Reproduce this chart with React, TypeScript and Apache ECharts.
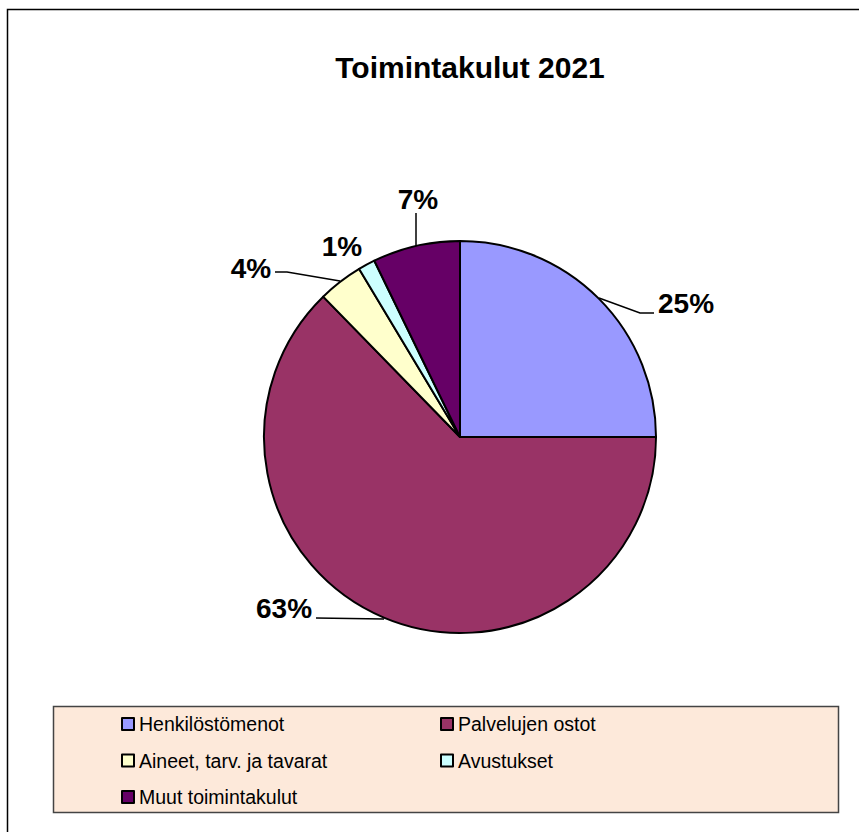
import React, { useEffect, useRef } from "react";
import * as echarts from "echarts";

const TITLE = "Toimintakulut 2021";
const categories = [
  "Henkilöstömenot",
  "Palvelujen ostot",
  "Aineet, tarv. ja tavarat",
  "Avustukset",
  "Muut toimintakulut",
];
const values = [25.0, 62.7, 3.7, 1.4, 7.2];
const colors = ["#9999FF", "#993366", "#FFFFCC", "#CCFFFF", "#660066"];
const leftLegend = ["Henkilöstömenot", "Aineet, tarv. ja tavarat", "Muut toimintakulut"];
const rightLegend = ["Palvelujen ostot", "Avustukset"];

const FONT = "'Liberation Sans', Arial, sans-serif";

// label placement (layout only): text center and leader line points
const labelPos = [
  { x: 686, y: 303, line: [[599, 298], [640, 313], [654, 313]] },
  { x: 284, y: 608, line: [[384, 619], [316, 618]] },
  { x: 251, y: 268, line: [[340, 281], [287, 272], [275, 272]] },
  { x: 342, y: 246, line: null },
  { x: 418, y: 199, line: [[416, 246], [416, 213]] },
];

export default function App() {
  const ref = useRef<HTMLDivElement>(null);
  useEffect(() => {
    if (!ref.current) return;
    const chart = echarts.init(ref.current, null, { renderer: "svg" });
    const legendText = { fontFamily: FONT, fontSize: 19.5, color: "#000" };
    const legendBase = {
      orient: "vertical",
      top: 714,
      itemWidth: 12,
      itemHeight: 12,
      itemGap: 16.5,
      icon: "rect",
      padding: 0,
      itemStyle: { borderColor: "#000", borderWidth: 2 },
      textStyle: legendText,
    };
    chart.setOption({
      animation: false,
      backgroundColor: "#fff",
      color: colors,
      title: {
        text: TITLE,
        left: 465,
        top: 47,
        textAlign: "center",
        textStyle: { fontFamily: FONT, fontSize: 30, fontWeight: "bold", color: "#000" },
      },
      graphic: [
        {
          type: "rect",
          z: -10,
          shape: { x: 7.5, y: 9.5, width: 900, height: 900 },
          style: { fill: "#fff", stroke: "#000", lineWidth: 1.5 },
        },
        {
          type: "rect",
          z: -5,
          shape: { x: 53.5, y: 706.5, width: 785, height: 106 },
          style: { fill: "#FDE9DA", stroke: "#444", lineWidth: 1.5 },
        },
      ],
      legend: [
        { ...legendBase, data: leftLegend, left: 121 },
        { ...legendBase, data: rightLegend, left: 440 },
      ],
      series: [
        {
          type: "pie",
          center: [460, 437],
          radius: 196,
          startAngle: 90,
          clockwise: true,
          percentPrecision: 0,
          avoidLabelOverlap: false,
          itemStyle: { borderColor: "#000", borderWidth: 2 },
          emphasis: { disabled: true },
          label: {
            show: true,
            position: "outside",
            formatter: "{d}%",
            fontFamily: FONT,
            fontSize: 28,
            fontWeight: "bold",
            color: "#000",
          },
          labelLine: {
            show: true,
            length: 20,
            length2: 10,
            lineStyle: { color: "#000", width: 1.5 },
          },
          labelLayout: (params: any) => {
            const p = labelPos[params.dataIndex];
            const out: any = { x: p.x, y: p.y, align: "center", verticalAlign: "middle" };
            if (p.line) out.labelLinePoints = p.line;
            return out;
          },
          data: categories.map((name, i) => ({
            name,
            value: values[i],
            labelLine: { show: labelPos[i].line !== null },
          })),
        },
      ],
    });
    return () => chart.dispose();
  }, []);
  return (
    <div
      ref={ref}
      style={{ position: "absolute", left: 0, top: 0, width: 859, height: 832 }}
    />
  );
}
